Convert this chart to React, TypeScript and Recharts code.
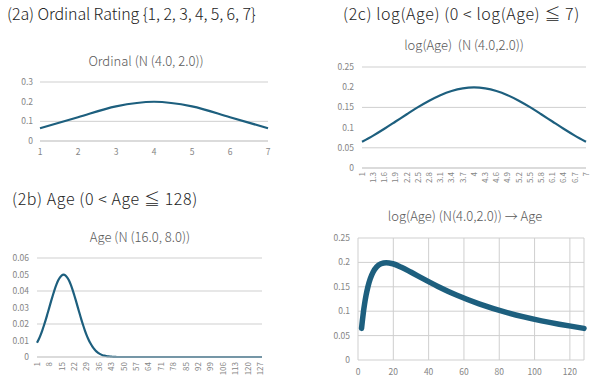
import React from "react";
import {
  LineChart,
  Line,
  XAxis,
  YAxis,
  CartesianGrid,
} from "recharts";

// (2a) ordinal rating 1..7, density of N(4, 2)
const ordinalCategories = ["1", "2", "3", "4", "5", "6", "7"];
const ordinalDensity = [0.0648, 0.121, 0.176, 0.1995, 0.176, 0.121, 0.0648];

// (2b) age 1..128, density of N(16, 8)
const ageCategories = [
  1, 2, 3, 4, 5, 6, 7, 8, 9, 10, 11, 12, 13, 14, 15, 16,
  17, 18, 19, 20, 21, 22, 23, 24, 25, 26, 27, 28, 29, 30, 31, 32,
  33, 34, 35, 36, 37, 38, 39, 40, 41, 42, 43, 44, 45, 46, 47, 48,
  49, 50, 51, 52, 53, 54, 55, 56, 57, 58, 59, 60, 61, 62, 63, 64,
  65, 66, 67, 68, 69, 70, 71, 72, 73, 74, 75, 76, 77, 78, 79, 80,
  81, 82, 83, 84, 85, 86, 87, 88, 89, 90, 91, 92, 93, 94, 95, 96,
  97, 98, 99, 100, 101, 102, 103, 104, 105, 106, 107, 108, 109, 110, 111, 112,
  113, 114, 115, 116, 117, 118, 119, 120, 121, 122, 123, 124, 125, 126, 127, 128,
];
const ageDensity = [
  0.0086, 0.0108, 0.0133, 0.0162, 0.0194, 0.0228, 0.0265, 0.0302,
  0.034, 0.0376, 0.041, 0.044, 0.0465, 0.0483, 0.0495, 0.0499,
  0.0495, 0.0483, 0.0465, 0.044, 0.041, 0.0376, 0.034, 0.0302,
  0.0265, 0.0228, 0.0194, 0.0162, 0.0133, 0.0108, 0.0086, 0.0068,
  0.0052, 0.004, 0.003, 0.0022, 0.0016, 0.0011, 0.0008, 0.0006,
  0.0004, 0.0003, 0.0002, 0.0001, 0.0001, 0, 0, 0,
  0, 0, 0, 0, 0, 0, 0, 0, 0, 0, 0, 0, 0, 0, 0, 0,
  0, 0, 0, 0, 0, 0, 0, 0, 0, 0, 0, 0, 0, 0, 0, 0,
  0, 0, 0, 0, 0, 0, 0, 0, 0, 0, 0, 0, 0, 0, 0, 0,
  0, 0, 0, 0, 0, 0, 0, 0, 0, 0, 0, 0, 0, 0, 0, 0,
  0, 0, 0, 0, 0, 0, 0, 0, 0, 0, 0, 0, 0, 0, 0, 0,
];

// (2c) log(Age) 1..7 step 0.3, density of N(4, 2)
const logAgeCategories = [
  "1", "1.3", "1.6", "1.9", "2.2", "2.5", "2.8", "3.1", "3.4", "3.7", "4",
  "4.3", "4.6", "4.9", "5.2", "5.5", "5.8", "6.1", "6.4", "6.7", "7",
];
const logAgeDensity = [
  0.0648, 0.0802, 0.0971, 0.115, 0.133, 0.1506, 0.1666, 0.1803, 0.1907, 0.1972, 0.1995,
  0.1972, 0.1907, 0.1803, 0.1666, 0.1506, 0.133, 0.115, 0.0971, 0.0802, 0.0648,
];

// (2d) same density plotted against Age = 2^log(Age)
const ageFromLog = [
  2, 2.462, 3.031, 3.732, 4.595, 5.657, 6.964, 8.574, 10.556, 12.996, 16,
  19.7, 24.25, 29.86, 36.76, 45.25, 55.72, 68.59, 84.45, 103.97, 128,
];

const ordinalTicks = [0, 0.1, 0.2, 0.3];
const ageTicks = [0, 0.01, 0.02, 0.03, 0.04, 0.05, 0.06];
const logTicks = [0, 0.05, 0.1, 0.15, 0.2, 0.25];
const ageAxisTicks = [0, 20, 40, 60, 80, 100, 120];

const ordinalData = ordinalCategories.map((x, i) => ({ x, y: ordinalDensity[i] }));
const ageData = ageCategories.map((x, i) => ({ x: String(x), y: ageDensity[i] }));
const logAgeData = logAgeCategories.map((x, i) => ({ x, y: logAgeDensity[i] }));
const transformedData = ageFromLog.map((x, i) => ({ x, y: logAgeDensity[i] }));

const LINE = "#1d5f7e";
const GRID = "#cfcfcf";
const TICK = "#858585";
const FONT = '"Noto Sans CJK JP", "Noto Sans", sans-serif';

const tickStyle = { fontSize: 8.5, fill: TICK, fontFamily: FONT };

const RotatedTick = (props: any) => {
  const { x, y, payload } = props;
  return (
    <g transform={`translate(${x},${y})`}>
      <text
        transform="rotate(-90)"
        textAnchor="end"
        dy="0.35em"
        fontSize={8}
        fill={TICK}
        fontFamily={FONT}
      >
        {payload.value}
      </text>
    </g>
  );
};

const heading: React.CSSProperties = {
  position: "absolute",
  fontSize: 16,
  fontWeight: 300,
  color: "#222",
  whiteSpace: "pre",
  lineHeight: "20px",
};

const chartTitle: React.CSSProperties = {
  position: "absolute",
  fontSize: 13,
  fontWeight: 300,
  color: "#595959",
  whiteSpace: "pre",
  lineHeight: "16px",
  transform: "translateX(-50%)",
};

export default function App() {
  return (
    <div
      style={{
        position: "absolute",
        left: 0,
        top: 0,
        width: 590,
        height: 380,
        background: "#fff",
        fontFamily: FONT,
        overflow: "hidden",
      }}
    >
      <div style={{ ...heading, left: 7, top: 3, letterSpacing: -0.1 }}>(2a) Ordinal Rating {"{"}1, 2, 3, 4, 5, 6, 7{"}"}</div>
      <div style={{ ...heading, left: 343, top: 3, letterSpacing: 0.6 }}>(2c) log(Age) (0 &lt; log(Age) ≦ 7)</div>
      <div style={{ ...heading, left: 12, top: 188, letterSpacing: 0.6 }}>(2b) Age (0 &lt; Age ≦ 128)</div>

      <div style={{ ...chartTitle, left: 146, top: 53 }}>Ordinal (N (4.0, 2.0))</div>
      <div style={{ ...chartTitle, left: 464, top: 37 }}>log(Age)  (N (4.0,2.0))</div>
      <div style={{ ...chartTitle, left: 140, top: 229 }}>Age (N (16.0, 8.0))</div>
      <div style={{ ...chartTitle, left: 465, top: 208 }}>log(Age) (N(4.0,2.0)) → Age</div>

      {/* (2a) */}
      <div style={{ position: "absolute", left: 0, top: 72 }}>
        <LineChart width={280} height={92} data={ordinalData} margin={{ top: 10, right: 12, bottom: 3, left: 10 }}>
          <CartesianGrid vertical={false} stroke={GRID} />
          <XAxis
            dataKey="x"
            height={20}
            tick={tickStyle}
            tickLine={false}
            tickSize={5}
            tickMargin={3}
            axisLine={{ stroke: GRID }}
          />
          <YAxis
            width={30}
            domain={[0, 0.3]}
            ticks={ordinalTicks}
            tick={tickStyle}
            tickLine={false}
            axisLine={false}
            tickSize={5}
            tickMargin={2}
          />
          <Line type="monotone" dataKey="y" stroke={LINE} strokeWidth={2.2} dot={false} isAnimationActive={false} />
        </LineChart>
      </div>

      {/* (2b) */}
      <div style={{ position: "absolute", left: 0, top: 245 }}>
        <LineChart width={280} height={135} data={ageData} margin={{ top: 13, right: 18, bottom: 1, left: 10 }}>
          <CartesianGrid vertical={false} stroke={GRID} />
          <XAxis
            dataKey="x"
            height={22}
            interval={6}
            tick={<RotatedTick />}
            tickLine={false}
            tickSize={3}
            tickMargin={2}
            axisLine={{ stroke: GRID }}
          />
          <YAxis
            width={27}
            domain={[0, 0.06]}
            ticks={ageTicks}
            tick={tickStyle}
            tickLine={false}
            axisLine={false}
            tickSize={6}
            tickMargin={2}
          />
          <Line type="monotone" dataKey="y" stroke={LINE} strokeWidth={2.2} dot={false} isAnimationActive={false} />
        </LineChart>
      </div>

      {/* (2c) */}
      <div style={{ position: "absolute", left: 300, top: 55 }}>
        <LineChart width={290} height={140} data={logAgeData} margin={{ top: 12, right: 4, bottom: 2, left: 30 }}>
          <CartesianGrid vertical={false} stroke={GRID} />
          <XAxis
            dataKey="x"
            height={25}
            interval={0}
            tick={<RotatedTick />}
            tickLine={false}
            tickSize={2}
            tickMargin={2}
            axisLine={{ stroke: GRID }}
          />
          <YAxis
            width={32}
            domain={[0, 0.25]}
            ticks={logTicks}
            tick={tickStyle}
            tickLine={false}
            axisLine={false}
            tickSize={6}
            tickMargin={2}
          />
          <Line type="monotone" dataKey="y" stroke={LINE} strokeWidth={2.2} dot={false} isAnimationActive={false} />
        </LineChart>
      </div>

      {/* (2d) */}
      <div style={{ position: "absolute", left: 300, top: 225 }}>
        <LineChart width={290} height={155} data={transformedData} margin={{ top: 13, right: 6, bottom: 2, left: 25 }}>
          <CartesianGrid stroke={GRID} />
          <XAxis
            dataKey="x"
            type="number"
            domain={[0, 128]}
            ticks={ageAxisTicks}
            height={18}
            tick={tickStyle}
            tickLine={false}
            axisLine={false}
            tickSize={6}
            tickMargin={3}
          />
          <YAxis
            width={33}
            domain={[0, 0.25]}
            ticks={logTicks}
            tick={tickStyle}
            tickLine={false}
            axisLine={false}
            tickSize={6}
            tickMargin={2}
          />
          <Line
            type="monotone"
            dataKey="y"
            stroke={LINE}
            strokeWidth={5.5}
            strokeLinecap="round"
            dot={false}
            isAnimationActive={false}
          />
        </LineChart>
      </div>
    </div>
  );
}
